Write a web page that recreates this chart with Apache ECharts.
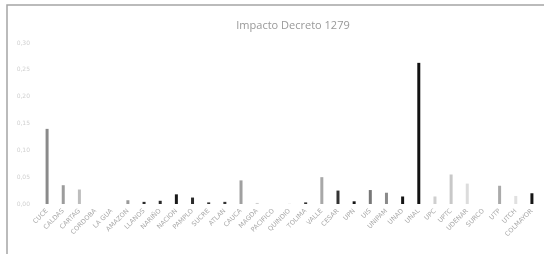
<!DOCTYPE html>
<html>
<head>
<meta charset="utf-8">
<script src="https://cdn.jsdelivr.net/npm/echarts@6/dist/echarts.min.js"></script>
<style>
  html, body { margin: 0; padding: 0; background: #fff; }
  #chart { width: 544px; height: 254px; }
</style>
</head>
<body>
<div id="chart"></div>
<script>
const categories = ['CUCE', 'CALDAS', 'CARTAG', 'CORDOBA', 'LA GUA', 'AMAZON', 'LLANOS', 'NARIÑO', 'NACION',
    'PAMPLO', 'SUCRE', 'ATLAN', 'CAUCA', 'MAGDA', 'PACIFICO', 'QUINDIO', 'TOLIMA', 'VALLE', 'CESAR',
    'UPN', 'UIS', 'UNIPAM', 'UNAD', 'UNAL', 'UPC', 'UPTC', 'UDENAR', 'SURCO', 'UTP', 'UTCH', 'COLMAYOR'];
const values = [0.140, 0.035, 0.027, 0, 0, 0.007, 0.004, 0.006, 0.018, 0.012, 0.003, 0.004, 0.044,
    0.002, 0, 0.001, 0.003, 0.050, 0.025, 0.005, 0.026, 0.021, 0.014, 0.263, 0.014, 0.055, 0.038,
    0, 0.034, 0.015, 0.020];
const barColors = ['#8a8a8a', '#9c9c9c', '#bdbdbd', '#ccc', '#ccc', '#999', '#2a2a2a', '#2a2a2a', '#1a1a1a',
    '#2a2a2a', '#333', '#333', '#a0a0a0', '#cfcfcf', '#ddd', '#ededed', '#333', '#a8a8a8', '#333',
    '#151515', '#777', '#8a8a8a', '#151515', '#111', '#cfcfcf', '#c8c8c8', '#dcdcdc', '#ddd', '#aaa',
    '#e0e0e0', '#151515'];
const yTicks = ['0,00', '0,05', '0,10', '0,15', '0,20', '0,25', '0,30'];

const myChart = echarts.init(document.getElementById('chart'));

let option = {
    backgroundColor: '#fff',
    animation: false,
    title: {
        text: 'Impacto Decreto 1279',
        left: 288,
        top: 15,
        textAlign: 'center',
        textStyle: {
            fontFamily: 'Open Sans',
            fontSize: 11,
            fontWeight: 'normal',
            color: '#999',
        },
    },
    graphic: [
        {
            type: 'rect',
            shape: {x: 7, y: 5, width: 560, height: 280},
            style: {fill: 'none', stroke: '#a5a5a5', lineWidth: 1.5},
            silent: true,
        },
    ],
    grid: {
        left: 39,
        right: 4,
        top: 43,
        bottom: 50,
    },
    xAxis: {
        type: 'category',
        data: categories,
        axisLine: {show: false},
        axisTick: {show: false},
        axisLabel: {
            interval: 0,
            rotate: 45,
            margin: 6,
            fontSize: 6.5,
            fontFamily: 'DejaVu Sans',
            color: '#a8a8a8',
        },
    },
    yAxis: {
        type: 'value',
        min: 0,
        max: 0.3,
        interval: 0.05,
        axisLine: {show: false},
        axisTick: {show: false},
        splitLine: {show: false},
        axisLabel: {
            margin: 9,
            fontSize: 6,
            fontFamily: 'DejaVu Sans',
            color: '#d0d0d0',
            formatter: function (v) {
                return yTicks[Math.round(v / 0.05)];
            },
        },
    },
    series: [
        {
            type: 'bar',
            barWidth: 3,
            data: values.map((v, i) => ({value: v, itemStyle: {color: barColors[i]}})),
        },
    ],
};

option && myChart.setOption(option);
</script>
</body>
</html>
